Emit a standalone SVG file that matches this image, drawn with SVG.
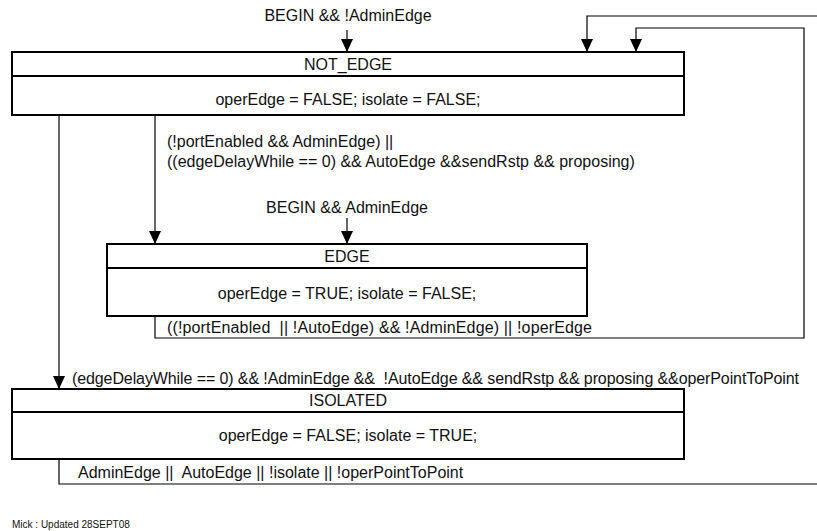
<svg xmlns="http://www.w3.org/2000/svg" width="817" height="531" viewBox="0 0 817 531">
  <style>
    text { font-family: "Liberation Sans", Arial, sans-serif; font-size: 16px; fill: #111; white-space: pre; }
    .mid { text-anchor: middle; }
    .note { font-size: 10px; }
    .state rect { fill: #fff; stroke: #000; stroke-width: 2; }
    .state line { stroke: #000; stroke-width: 2; }
    .conn path { fill: none; stroke: #000; stroke-width: 1.2; }
  </style>
  <defs>
    <marker id="arrow" viewBox="0 0 13 12" refX="13" refY="6" markerWidth="13" markerHeight="12" markerUnits="userSpaceOnUse" orient="auto">
      <path d="M0,0 L13,6 L0,12 z" fill="#000"/>
    </marker>
  </defs>

  <rect width="817" height="531" fill="#fff"/>

  <!-- transitions -->
  <g id="connectors" class="conn">
    <path d="M347,30 V52" marker-end="url(#arrow)"/>
    <path d="M59,459 V484 H830 V16 H587 V52" marker-end="url(#arrow)"/>
    <path d="M155,316 V338 H804 V28 H636 V52" marker-end="url(#arrow)"/>
    <path d="M155,115 V244" marker-end="url(#arrow)"/>
    <path d="M347,218 V244" marker-end="url(#arrow)"/>
    <path d="M59,115 V389" marker-end="url(#arrow)"/>
  </g>

  <!-- transition conditions -->
  <g id="labels">
    <text class="mid" x="348" y="21">BEGIN &amp;&amp; !AdminEdge</text>
    <text x="167" y="147">(!portEnabled &amp;&amp; AdminEdge) ||</text>
    <text x="167" y="167">((edgeDelayWhile == 0) &amp;&amp; AutoEdge &amp;&amp;sendRstp &amp;&amp; proposing)</text>
    <text class="mid" x="347" y="213">BEGIN &amp;&amp; AdminEdge</text>
    <text x="167" y="333" textLength="425" lengthAdjust="spacing">((!portEnabled  || !AutoEdge) &amp;&amp; !AdminEdge) || !operEdge</text>
    <text x="72" y="384" textLength="727" lengthAdjust="spacing">(edgeDelayWhile == 0) &amp;&amp; !AdminEdge &amp;&amp;  !AutoEdge &amp;&amp; sendRstp &amp;&amp; proposing &amp;&amp;operPointToPoint</text>
    <text x="78" y="478">AdminEdge ||  AutoEdge || !isolate || !operPointToPoint</text>
  </g>

  <!-- states -->
  <g id="not-edge" class="state">
    <rect x="12" y="52" width="672" height="63"/>
    <line x1="12" y1="76" x2="684" y2="76"/>
    <text class="mid" x="348" y="70">NOT_EDGE</text>
    <text class="mid" x="348" y="105">operEdge = FALSE; isolate = FALSE;</text>
  </g>

  <g id="edge" class="state">
    <rect x="107" y="244" width="480" height="72"/>
    <line x1="107" y1="268" x2="587" y2="268"/>
    <text class="mid" x="347" y="262">EDGE</text>
    <text class="mid" x="347" y="299">operEdge = TRUE; isolate = FALSE;</text>
  </g>

  <g id="isolated" class="state">
    <rect x="12" y="389" width="672" height="70"/>
    <line x1="12" y1="412" x2="684" y2="412"/>
    <text class="mid" x="348" y="406">ISOLATED</text>
    <text class="mid" x="348" y="441">operEdge = FALSE; isolate = TRUE;</text>
  </g>

  <text class="note" x="12" y="528">Mick : Updated 28SEPT08</text>
</svg>
